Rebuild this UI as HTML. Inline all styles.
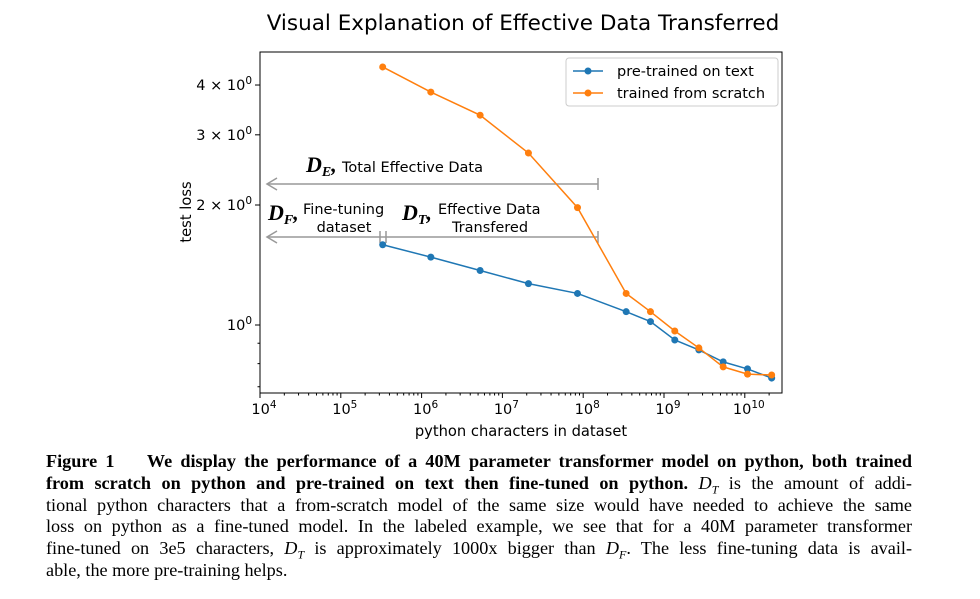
<!DOCTYPE html>
<html><head><meta charset="utf-8"><style>
body{margin:0;background:#fff;width:980px;height:599px;overflow:hidden;position:relative;font-family:"DejaVu Sans",sans-serif}
#cap{position:absolute;left:46px;top:451px;width:866px;font-family:"Liberation Serif",serif;font-size:18.2px;line-height:21.8px;color:#000}
#cap div{text-align:justify;text-align-last:justify;white-space:nowrap}
#cap div.last{text-align-last:left}
sub{font-size:12px;line-height:0}
</style></head><body>
<svg id="chart" width="980" height="445" style="position:absolute;left:0;top:0" font-family="DejaVu Sans, sans-serif">
<text x="523" y="30" font-size="21.5" text-anchor="middle">Visual Explanation of Effective Data Transferred</text>
<g id="plot"></g>
</svg>
<div id="cap">
<div><b>Figure 1&nbsp;&nbsp;&nbsp; We display the performance of a 40M parameter transformer model on python, both trained</b></div>
<div><b>from scratch on python and pre-trained on text then fine-tuned on python.</b> <i>D<sub>T</sub></i> is the amount of addi-</div>
<div>tional python characters that a from-scratch model of the same size would have needed to achieve the same</div>
<div>loss on python as a fine-tuned model. In the labeled example, we see that for a 40M parameter transformer</div>
<div>fine-tuned on 3e5 characters, <i>D<sub>T</sub></i> is approximately 1000x bigger than <i>D<sub>F</sub></i>. The less fine-tuning data is avail-</div>
<div class="last">able, the more pre-training helps.</div>
</div>
<script>
const xs=[3.3e5,1.3e6,5.3e6,2.1e7,8.5e7,3.4e8,6.8e8,1.36e9,2.7e9,5.4e9,1.08e10,2.15e10];
const scratch=[4.44,3.84,3.36,2.70,1.97,1.20,1.08,0.966,0.876,0.785,0.753,0.749];
const pretrained=[1.59,1.48,1.37,1.27,1.20,1.08,1.02,0.917,0.866,0.808,0.776,0.736];
const xTickExp=[4,5,6,7,8,9,10];
const yMajor=[1,2,3,4];
const yMajorLabels=["10","2 × 10","3 × 10","4 × 10"];
const L=260,R=782,T=52,B=393;
const X=v=>L+(Math.log10(v)-4)*80.8;
const Y=v=>325-Math.log10(v)*398.6;
const NS="http://www.w3.org/2000/svg";
const g=document.getElementById('plot');
function mk(t,a,p){const e=document.createElementNS(NS,t);for(const k in a)e.setAttribute(k,a[k]);(p||g).appendChild(e);return e;}
const frame=mk('rect',{x:L,y:T,width:R-L,height:B-T,fill:'none',stroke:'#000','stroke-width':1});


xTickExp.forEach(e=>{const x=X(Math.pow(10,e));mk('line',{x1:x,x2:x,y1:B,y2:B+5,stroke:'#000'});
 for(let m=2;m<10;m++){const xm=X(m*Math.pow(10,e));if(xm<R)mk('line',{x1:xm,x2:xm,y1:B,y2:B+2.5,stroke:'#000'});}
 const t=mk('text',{x:x+4,y:B+21,'font-size':14.5,'text-anchor':'middle'});t.textContent='10';
 
 const s=mk('tspan',{dy:-6,'font-size':10.5},t);s.textContent=e;});
[0.7,0.8,0.9,1,2,3,4].forEach(v=>{const y=Y(v);const maj=yMajor.includes(v);mk('line',{x1:L-(maj?5:2.5),x2:L,y1:y,y2:y,stroke:'#000'});});
yMajor.forEach((v,i)=>{const t=mk('text',{x:L-8,y:Y(v)+5,'font-size':14.5,'text-anchor':'end'});
 
 mk('tspan',{},t).textContent=yMajorLabels[i];
 mk('tspan',{dy:-6,'font-size':10.5},t).textContent='0';});
const xl=mk('text',{x:521,y:436,'font-size':14.7,'text-anchor':'middle'});xl.textContent='python characters in dataset';

const yl=mk('text',{x:191,y:212,'font-size':14.7,'text-anchor':'middle',transform:'rotate(-90 191 212)'});yl.textContent='test loss';

const gr='#999';
function arrow(y,x1,x2,name){const a=mk('line',{x1:x1,x2:x2,y1:y,y2:y,stroke:gr,'stroke-width':1.5});
 mk('polyline',{points:`${x1+10},${y-6} ${x1},${y} ${x1+10},${y+6}`,fill:'none',stroke:gr,'stroke-width':1.5});
 mk('line',{x1:x2,x2:x2,y1:y-6,y2:y+6,stroke:gr,'stroke-width':1.5});}
arrow(184,267,598,'de-arrow');arrow(237,267,598,'df-arrow');
mk('line',{x1:380,x2:380,y1:231,y2:243,stroke:gr,'stroke-width':1.5});mk('line',{x1:386,x2:386,y1:231,y2:243,stroke:gr,'stroke-width':1.5});
function lab(x,y,big,sub,name){const t=mk('text',{x:x,y:y,'font-family':'Liberation Serif, serif','font-style':'italic','font-weight':'bold','font-size':22});t.textContent=big;
 
 const s=mk('tspan',{dy:4,'font-size':14},t);s.textContent=sub;const c=mk('tspan',{dy:-4},t);c.textContent=',';}
lab(306,172,'D','E','de-label');
mk('text',{x:342,y:172,'font-size':14.5}).textContent='Total Effective Data';
lab(268,220,'D','F','df-label');
mk('text',{x:303,y:214,'font-size':14.5}).textContent='Fine-tuning';
mk('text',{x:344,y:232,'font-size':14.5,'text-anchor':'middle'}).textContent='dataset';
lab(402,220,'D','T','dt-label');
mk('text',{x:438,y:214,'font-size':14.5}).textContent='Effective Data';
mk('text',{x:490,y:232,'font-size':14.5,'text-anchor':'middle'}).textContent='Transfered';
function series(ys,col,name){const pts=xs.map((x,i)=>X(x)+','+Y(ys[i])).join(' ');
 const p=mk('polyline',{points:pts,fill:'none',stroke:col,'stroke-width':1.5});
 xs.forEach((x,i)=>{const c=mk('circle',{cx:X(x),cy:Y(ys[i]),r:3.5,fill:col});});}
series(pretrained,'#1f77b4','pretrained');
series(scratch,'#ff7f0e','scratch');
const lg=mk('g',{});
mk('rect',{x:566,y:58,width:212,height:48,rx:3,fill:'#fff',stroke:'#ccc'},lg);
[['pre-trained on text','#1f77b4',71],['trained from scratch','#ff7f0e',93]].forEach(([t,c,y])=>{
 const e=mk('g',{},lg);
 mk('line',{x1:573,x2:603,y1:y,y2:y,stroke:c,'stroke-width':1.5},e);mk('circle',{cx:588,cy:y,r:3.5,fill:c},e);
 mk('text',{x:617,y:y+5,'font-size':14.5},e).textContent=t;});
</script>
</body></html>
